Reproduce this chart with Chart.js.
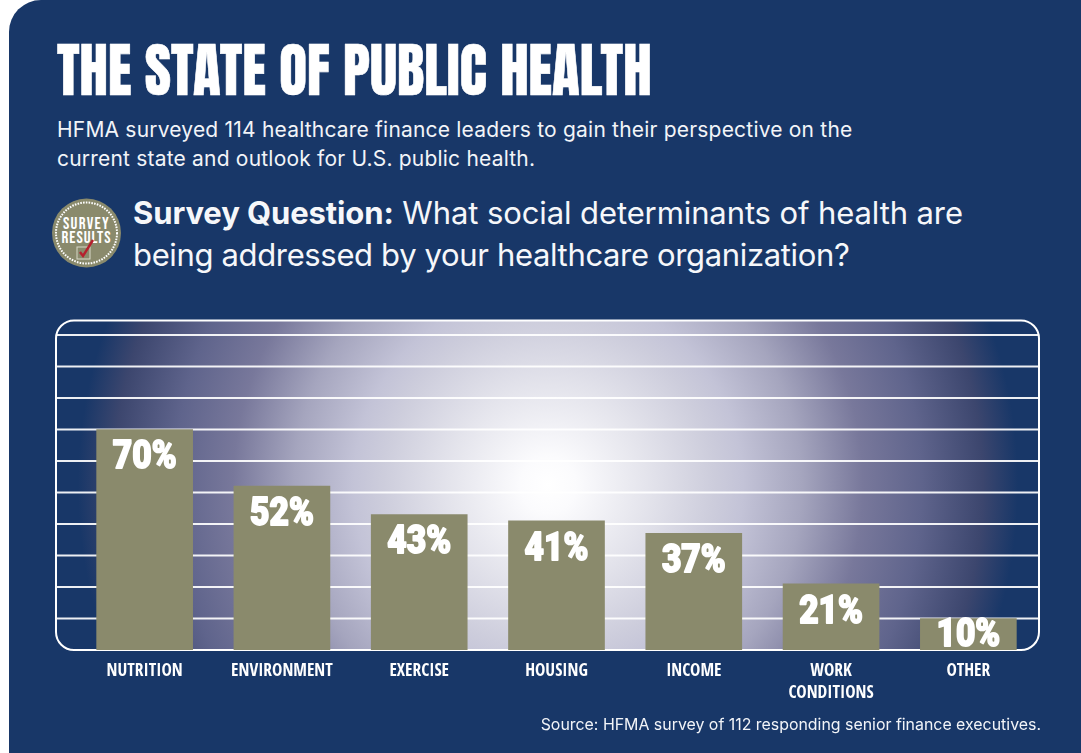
<!DOCTYPE html>
<html>
<head>
<meta charset="utf-8">
<title>The State of Public Health</title>
<script src="https://cdn.jsdelivr.net/npm/chart.js@4"></script>
<style>
    html, body { margin: 0; padding: 0; background: #fff; }
    #page { position: relative; width: 1081px; height: 753px; overflow: hidden; }
    #card { position: absolute; left: 9px; top: 0; right: 0; bottom: 0; background: #183768; border-top-left-radius: 32px; }
    #chart { position: absolute; left: 0; top: 0; }
    .txt { position: absolute; color: #fff; white-space: nowrap; margin: 0; font-weight: 400; }
    #title { left: 57px; top: 28px; font: 400 59px/84px Anton, Roboto, sans-serif; transform-origin: left top; transform: scaleX(0.966); -webkit-text-stroke: 0.6px #fff; }
    #intro { left: 57px; top: 115px; font: 400 21px/29px Inter, sans-serif; letter-spacing: 0.2px; color: #f2f4f8; }
    #question { left: 133px; top: 192px; font: 400 31px/42px Inter, sans-serif; letter-spacing: -0.1px; color: #f6f7fa; }
    #question b { font-weight: 700; }
    #question span { letter-spacing: -0.35px; }
    #source { right: 40px; top: 715px; font: 400 15.9px/20px Inter, sans-serif; color: #f2f4f8; }
    #badge { position: absolute; left: 51px; top: 198px; }
</style>
</head>
<body>
<div id="page">
    <div id="card"></div>
    <h1 class="txt" id="title">THE STATE OF PUBLIC HEALTH</h1>
    <p class="txt" id="intro">HFMA surveyed 114 healthcare finance leaders to gain their perspective on the<br>current state and outlook for U.S. public health.</p>
    <svg id="badge" width="70" height="70" viewBox="0 0 70 70">
        <circle cx="35.5" cy="35" r="34.5" fill="#8a8a6c"/>
        <circle cx="35.5" cy="35" r="30.5" fill="none" stroke="#fff" stroke-width="2" stroke-dasharray="1.6 1.2"/>
        <text x="35.5" y="31" text-anchor="middle" fill="#fff" font-family="Bebas Neue, Open Sans Condensed" font-size="17" letter-spacing="1.3">SURVEY</text>
        <text x="35.5" y="45" text-anchor="middle" fill="#fff" font-family="Bebas Neue, Open Sans Condensed" font-size="17" letter-spacing="1">RESULTS</text>
        <rect x="26" y="49" width="13" height="12" fill="none" stroke="#d8d8c8" stroke-width="1"/>
        <path d="M29 54 L32 58 L42 42" fill="none" stroke="#b5202e" stroke-width="2.4"/>
    </svg>
    <p class="txt" id="question"><b>Survey Question:</b> What social determinants of health are<br><span>being addressed by your healthcare organization?</span></p>
    <canvas id="chart" width="1081" height="753"></canvas>
    <p class="txt" id="source">Source: HFMA survey of 112 responding senior finance executives.</p>
</div>
<script>
const categories = ['NUTRITION', 'ENVIRONMENT', 'EXERCISE', 'HOUSING', 'INCOME', ['WORK', 'CONDITIONS'], 'OTHER'];
const shares = [70, 52, 43, 41, 37, 21, 10];
const gridTicks = [0, 10, 20, 30, 40, 50, 60, 70, 80, 90, 100];

const OLIVE = '#8a8a6c';

// Rounded panel behind the bars: glow, then horizontal rules, then outline
const panelPlugin = {
    id: 'panel',
    beforeDatasetsDraw(chart) {
        const { ctx } = chart;
        const yScale = chart.scales.y;
        const left = 56, right = 1039, top = 320.5, bottom = yScale.getPixelForValue(0);
        const panelPath = () => {
            ctx.beginPath();
            ctx.roundRect(left, top, right - left, bottom - top, 18);
        };

        ctx.save();
        panelPath();
        ctx.clip();

        const glow = ctx.createRadialGradient(548, 485, 0, 548, 485, 470);
        glow.addColorStop(0, '#ffffff');
        glow.addColorStop(0.06, '#fbfbfd');
        glow.addColorStop(0.21, '#e4e4ec');
        glow.addColorStop(0.35, '#cdcddc');
        glow.addColorStop(0.415, '#c3c3d7');
        glow.addColorStop(0.54, '#a5a5be');
        glow.addColorStop(0.67, '#78789b');
        glow.addColorStop(0.795, '#5f648c');
        glow.addColorStop(0.925, '#3c466e');
        glow.addColorStop(1, '#183768');
        ctx.fillStyle = glow;
        ctx.fillRect(left, top, right - left, bottom - top);

        ctx.strokeStyle = 'rgba(255, 255, 255, 0.92)';
        ctx.lineWidth = 2;
        yScale.ticks.forEach((tick) => {
            const y = yScale.getPixelForValue(tick.value);
            ctx.beginPath();
            ctx.moveTo(left, y);
            ctx.lineTo(right, y);
            ctx.stroke();
        });
        ctx.restore();

        ctx.save();
        ctx.strokeStyle = '#ffffff';
        ctx.lineWidth = 2;
        panelPath();
        ctx.stroke();
        ctx.restore();
    }
};

// Percentage printed inside the top of each bar
const valueLabelPlugin = {
    id: 'valueLabels',
    afterDatasetsDraw(chart) {
        const { ctx } = chart;
        const base = chart.scales.y.getPixelForValue(0);
        ctx.save();
        ctx.fillStyle = '#ffffff';
        ctx.strokeStyle = '#ffffff';
        ctx.lineWidth = 1.8;
        ctx.lineJoin = 'round';
        ctx.textAlign = 'center';
        ctx.textBaseline = 'middle';
        ctx.font = '900 39px Roboto, sans-serif';
        chart.getDatasetMeta(0).data.forEach((bar, i) => {
            const y = Math.min(bar.y + 29, base - 14);
            ctx.save();
            ctx.translate(bar.x, y);
            ctx.scale(0.86, 1);
            ctx.fillText(shares[i] + '%', 0, 0);
            ctx.strokeText(shares[i] + '%', 0, 0);
            ctx.restore();
        });
        ctx.restore();
    }
};

new Chart(document.getElementById('chart'), {
    type: 'bar',
    data: {
        labels: categories,
        datasets: [{
            data: shares,
            backgroundColor: OLIVE,
            borderWidth: 0,
            barThickness: 96
        }]
    },
    options: {
        responsive: false,
        animation: false,
        layout: {
            padding: { left: 76, right: 44, top: 335, bottom: 43 }
        },
        plugins: {
            legend: { display: false },
            tooltip: { enabled: false }
        },
        scales: {
            x: {
                afterFit(scale) {
                    scale.height = 60;
                },
                grid: { display: false },
                border: { display: false },
                ticks: {
                    color: '#ffffff',
                    padding: 2,
                    maxRotation: 0,
                    autoSkip: false,
                    font: { family: '"Open Sans Condensed", "Open Sans", sans-serif', weight: 'bold', size: 17.4, lineHeight: 1.27 }
                }
            },
            y: {
                display: false,
                min: 0,
                max: 100,
                afterBuildTicks(scale) {
                    scale.ticks = gridTicks.map((value) => ({ value }));
                }
            }
        }
    },
    plugins: [panelPlugin, valueLabelPlugin]
});
</script>
</body>
</html>
